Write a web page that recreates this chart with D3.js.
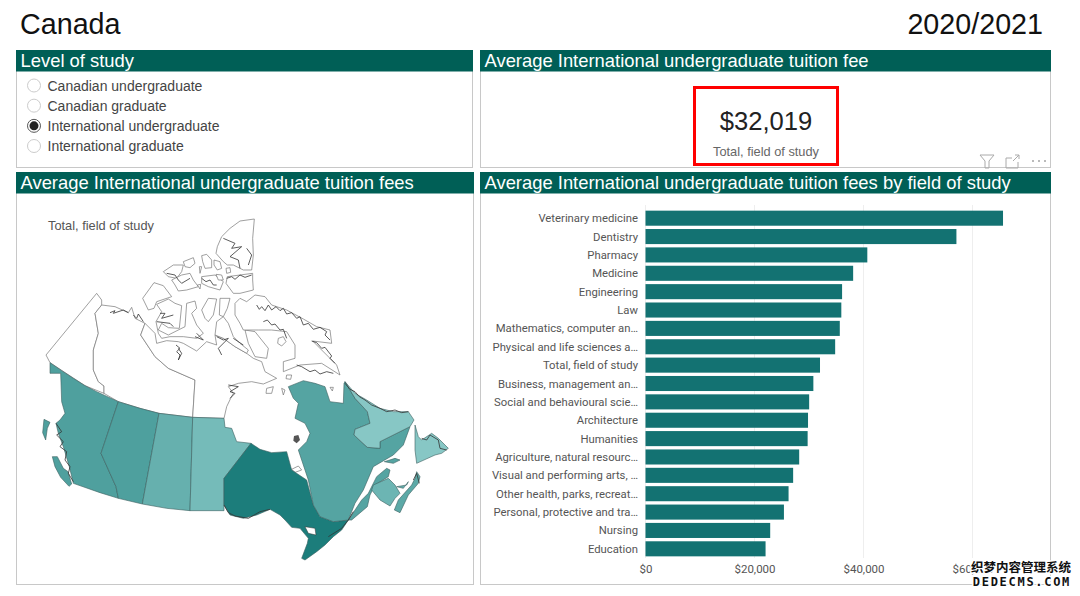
<!DOCTYPE html>
<html>
<head>
<meta charset="utf-8">
<script src="https://cdn.jsdelivr.net/npm/d3@7"></script>
<style>
body{margin:0;background:#fff;}
text{font-family:"Liberation Sans",Arial,sans-serif;}
</style>
</head>
<body>
<svg id="chart" width="1080" height="596"></svg>
<script>
var fields=["Veterinary medicine","Dentistry","Pharmacy","Medicine","Engineering","Law","Mathematics, computer an\u2026","Physical and life sciences a\u2026","Total, field of study","Business, management an\u2026","Social and behavioural scie\u2026","Architecture","Humanities","Agriculture, natural resourc\u2026","Visual and performing arts, \u2026","Other health, parks, recreat\u2026","Personal, protective and tra\u2026","Nursing","Education"];
var fees=[65600,57050,40700,38100,36070,35930,35650,34800,32019,30800,30030,29820,29750,28200,27090,26250,25400,22880,22030];
var feeTicks=[0,20000,40000,60000];
var levels=["Canadian undergraduate","Canadian graduate","International undergraduate","International graduate"];
var selectedLevel="International undergraduate";

// province fee estimates, only used to pick the map shade
var provinceFees={BC:26700,AB:27000,SK:20300,MB:16000,ON:41000,QC:25000,NB:18500,NS:23000,PE:21000,NL:11000};

// outlines, in map units (3 units = 1 px)
var provinceShapes=[
 {id:"BC",pts:[[150,518],[185,542],[220,565],[255,587],[290,605],[355,635],[303,790],[312,810],[330,850],[348,890],[355,925],[300,908],[220,880],[208,830],[190,770],[175,730],[168,700],[180,690],[195,670],[185,635],[182,550],[150,550]]},
 {id:"BC",pts:[[157,800],[172,800],[190,835],[204,845],[215,882],[207,889],[182,862],[165,830]]},
 {id:"BC",pts:[[132,688],[150,697],[142,715],[137,750],[128,728]]},
 {id:"AB",pts:[[355,635],[420,655],[477,670],[427,942],[355,925],[348,890],[330,850],[312,810],[303,790]]},
 {id:"SK",pts:[[477,670],[578,682],[570,962],[500,955],[427,942]]},
 {id:"MB",pts:[[578,682],[672,685],[675,712],[695,715],[710,755],[753,760],[672,865],[672,962],[570,962]]},
 {id:"ON",pts:[[753,760],[780,778],[815,788],[860,785],[875,840],[920,870],[940,945],[960,980],[1000,995],[1045,990],[1025,1020],[1000,1040],[975,1065],[950,1085],[915,1110],[905,1105],[922,1060],[925,1045],[900,1015],[875,1012],[855,990],[840,975],[810,958],[770,975],[730,985],[690,975],[672,945],[672,865]]},
 {id:"QC",pts:[[865,590],[910,572],[945,580],[975,590],[990,635],[1030,640],[1032,580],[1035,575],[1065,625],[1102,665],[1110,700],[1065,718],[1062,735],[1102,772],[1140,775],[1140,755],[1230,710],[1210,765],[1180,795],[1120,830],[1090,900],[1065,940],[1045,990],[1000,995],[960,980],[940,945],[925,870],[915,840],[895,780],[920,755],[930,730],[915,700],[885,685],[895,640],[880,625]]},
 {id:"QC",pts:[[1105,910],[1130,860],[1160,835],[1170,840],[1165,860],[1125,885],[1110,915],[1102,950],[1055,990],[1045,990],[1085,930]]},
 {id:"QC",pts:[[1153,815],[1185,805],[1200,810],[1180,820]]},
 {id:"NL",pts:[[1035,575],[1065,625],[1102,665],[1110,700],[1065,718],[1062,735],[1102,772],[1140,775],[1140,755],[1230,710],[1242,690],[1225,665],[1180,665],[1140,655],[1100,630],[1065,610]]},
 {id:"NL",pts:[[1245,705],[1255,740],[1265,750],[1295,730],[1315,745],[1345,775],[1325,790],[1305,795],[1250,820],[1245,780]]},
 {id:"NB",pts:[[1120,885],[1165,865],[1185,885],[1200,910],[1185,925],[1170,948],[1140,930],[1115,900]]},
 {id:"NS",pts:[[1250,845],[1260,860],[1255,880],[1225,915],[1200,968],[1183,960],[1195,930],[1235,885],[1245,865]]},
 {id:"PE",pts:[[1190,890],[1220,885],[1225,875],[1210,895]]}
];
// territories and arctic islands stay white
var whiteShapes=[
 [[290,310],[305,330],[305,345],[285,370],[295,430],[280,480],[280,540],[295,575],[312,588],[312,610],[255,587],[150,518],[138,495]],
 [[312,610],[355,635],[420,655],[477,670],[578,682],[585,570],[505,535],[465,500],[422,435],[435,400],[405,385],[395,352],[385,368],[345,350],[305,345],[285,370],[295,430],[280,480],[280,540],[295,575],[312,588]],
 [[585,570],[578,682],[672,685],[680,650],[692,625],[700,610],[685,590],[715,580],[755,575],[790,582],[830,565],[795,545],[785,515],[760,505],[740,490],[705,470],[670,445],[645,435],[650,465],[620,455],[590,483],[550,460],[535,455],[500,452],[470,460],[465,430],[435,400],[422,435],[465,500],[505,535]],
 [[735,420],[765,425],[805,475],[800,505],[765,500],[745,460]],
 [[765,315],[795,320],[815,345],[860,360],[910,387],[950,410],[990,420],[995,460],[938,453],[980,495],[1010,525],[1020,555],[965,520],[900,525],[850,545],[850,515],[885,505],[885,465],[860,425],[815,420],[775,420],[730,420],[720,400],[705,375],[705,340],[720,325],[740,335]],
 [[763,87],[720,93],[690,115],[665,140],[652,170],[648,190],[670,215],[682,225],[700,225],[730,240],[755,240],[760,195],[758,145]],
 [[758,250],[720,255],[682,260],[678,280],[700,310],[720,310],[760,300],[758,270]],
 [[605,197],[620,193],[635,210],[635,233],[615,235],[608,215]],
 [[642,210],[660,215],[665,235],[652,240],[642,225]],
 [[605,260],[645,255],[670,275],[660,300],[625,290],[605,280]],
 [[648,253],[665,255],[670,270],[655,270]],
 [[678,235],[690,233],[692,247],[680,250]],
 [[490,245],[520,225],[550,225],[545,245],[530,265],[505,260]],
 [[550,215],[580,203],[585,220],[570,233],[555,230]],
 [[515,270],[545,255],[570,250],[580,270],[595,290],[560,300],[535,303],[525,285]],
 [[598,230],[605,230],[600,250]],
 [[592,285],[602,283],[600,297]],
 [[428,325],[462,278],[490,287],[515,320],[470,335],[462,355],[445,360]],
 [[470,343],[505,327],[525,340],[545,347],[538,415],[505,413],[485,400],[475,420],[505,435],[555,410],[560,340],[585,333],[590,355],[575,370],[590,405],[610,430],[590,445],[550,440],[510,440],[485,445],[475,430],[468,395],[485,365]],
 [[605,360],[625,325],[650,327],[640,375],[625,395],[615,385]],
 [[660,325],[690,325],[682,355],[670,380],[658,375]],
 [[650,395],[670,380],[685,400],[700,440],[720,460],[745,480],[740,490],[705,470],[670,445],[645,435]],
 [[800,595],[820,590],[815,610],[798,610]],
 [[845,595],[855,600],[850,615]],
 [[835,445],[850,440],[858,455],[845,468],[833,460]],
 [[860,555],[875,555],[872,568],[858,566]],
 [[875,838],[895,828],[905,840],[885,847]],
 [[990,592],[1000,592],[997,603]],
 [[1175,695],[1190,665],[1182,695]]
];
// hand drawn crinkles along the coasts
var coastLines=[
 [[330,368],[345,362],[340,370],[370,360],[385,368]],
 [[400,375],[410,385],[415,372],[430,395]],
 [[168,700],[185,725],[170,735],[190,755],[180,770],[200,785],[195,810],[210,830],[205,850],[220,875]],
 [[770,345],[778,358],[785,350],[795,362],[805,345],[815,360],[828,350],[840,362],[850,355],[860,372],[875,368],[890,385],[900,380],[910,405],[925,400],[940,418],[960,412],[980,425],[975,435],[990,450]],
 [[790,395],[802,390],[815,405],[825,402],[840,420],[850,418],[860,445]],
 [[935,453],[950,458],[965,475],[975,472],[995,498],[990,505],[1005,520]],
 [[890,525],[905,530],[930,545],[945,540],[960,552],[980,545],[1000,550]],
 [[670,145],[705,160],[695,175],[725,170],[690,200],[715,210],[720,235]],
 [[740,175],[755,195],[745,225]],
 [[680,265],[695,260],[705,268],[720,255],[735,262],[755,255]],
 [[605,265],[618,275],[630,270],[640,285],[650,285]],
 [[500,250],[525,255],[535,270],[545,280],[570,265]],
 [[480,370],[495,370],[485,385],[520,375]],
 [[470,395],[510,400],[520,410]],
 [[528,465],[540,475],[530,485],[540,495],[535,510],[545,490],[535,475]],
 [[590,430],[610,450],[585,440]],
 [[650,440],[670,450],[685,445],[655,475],[665,495]],
 [[700,445],[730,465]],
 [[685,585],[715,590],[690,605],[705,610],[690,625]],
 [[1035,580],[1050,598],[1065,605],[1078,620],[1095,630],[1115,645],[1140,655],[1160,665],[1185,660],[1205,668],[1225,665]],
 [[1265,745],[1280,750],[1290,735],[1315,750],[1320,775],[1340,780]],
 [[672,945],[685,968],[705,978],[745,985],[780,965],[810,958]],
 [[985,1040],[1025,1015],[1045,990],[1060,965]],
 [[1240,870],[1250,850],[1258,880]]
];
// Georgian Bay and the Akimiski blob sit on top
var georgianBay=[[915,1010],[945,1015],[948,1035],[925,1030]];
var akimiski=[[882,738],[895,735],[900,750],[890,760],[880,752]];
var kpiValue="$32,019";
var kpiLabel="Total, field of study";

var svg=d3.select("#chart");
var darkGreen="#005f56", borderGrey="#c8c8c8", textGrey="#555";

var panels=[
 {x:16,y:50,w:457,h:118,title:"Level of study"},
 {x:480,y:50,w:571,h:118,title:"Average International undergraduate tuition fee"},
 {x:16,y:172,w:458,h:413,title:"Average International undergraduate tuition fees"},
 {x:480,y:172,w:571,h:413,title:"Average International undergraduate tuition fees by field of study"}
];
svg.selectAll("rect.panel").data(panels).enter().append("rect")
 .attr("class","panel")
 .attr("x",function(d){return d.x+0.5;})
 .attr("y",function(d){return d.y+0.5;})
 .attr("width",function(d){return d.w-1;})
 .attr("height",function(d){return d.h-1;})
 .attr("fill","#fff").attr("stroke",borderGrey);
svg.selectAll("rect.head").data(panels).enter().append("rect")
 .attr("class","head")
 .attr("x",function(d){return d.x;})
 .attr("y",function(d){return d.y;})
 .attr("width",function(d){return d.w;})
 .attr("height",21.5)
 .attr("fill",darkGreen);
svg.selectAll("text.head").data(panels).enter().append("text")
 .attr("class","head")
 .attr("x",function(d){return d.x+4.5;})
 .attr("y",function(d){return d.y+16.5;})
 .attr("font-size",18.4)
 .attr("fill","#fff")
 .text(function(d){return d.title;});

svg.append("text").attr("x",20).attr("y",34).attr("font-size",28.7).attr("fill","#111").text("Canada");
svg.append("text").attr("x",1043).attr("y",34).attr("font-size",28.7).attr("fill","#111").attr("text-anchor","end").text("2020/2021");

// radio list
var levelY=d3.scalePoint().domain(levels).range([85.5,146]);
var radio=svg.selectAll("g.level").data(levels).enter().append("g").attr("class","level")
 .attr("transform",function(d){return "translate(0,"+levelY(d)+")";});
radio.append("circle").attr("cx",34).attr("r",6.5).attr("fill","#fff")
 .attr("stroke",function(d){return d==selectedLevel?"#555":"#ccc";});
radio.filter(function(d){return d==selectedLevel;}).append("circle").attr("cx",34).attr("r",4.5).attr("fill","#222");
radio.append("text").attr("x",47.5).attr("y",5).attr("font-size",14).attr("fill","#444").text(function(d){return d;});

// kpi card
svg.append("rect").attr("x",694.5).attr("y",87.5).attr("width",143).attr("height",77)
 .attr("fill","#fff").attr("stroke","#f00").attr("stroke-width",3);
svg.append("text").attr("x",766).attr("y",130).attr("text-anchor","middle").attr("font-size",25.6).attr("fill","#222").text(kpiValue);
svg.append("text").attr("x",766).attr("y",155.5).attr("text-anchor","middle").attr("font-size",12.8).attr("fill","#666").text(kpiLabel);

// visual header icons
var icons=svg.append("g").attr("fill","none").attr("stroke","#aaa").attr("stroke-width",1);
icons.append("path").attr("d","M980,155H994L989,161V168H985V161Z");
icons.append("path").attr("d","M1012,158H1006V168H1018V162M1013,161L1019,155M1015,155H1019V159");
icons.append("path").attr("d","M1032,161h2M1038,161h2M1044,161h2").attr("stroke","#777");

// map
var mapX=d3.scaleLinear().domain([0,1440]).range([0,480]);
var mapY=d3.scaleLinear().domain([0,1200]).range([190,590]);
var shade=d3.scaleLinear().domain([11000,41000]).range(["#87c7c5","#1c7d7b"]);
var outline=d3.line().x(function(d){return mapX(d[0]);}).y(function(d){return mapY(d[1]);});
svg.append("g").selectAll("path").data(whiteShapes).enter().append("path")
 .attr("d",function(d){return outline(d)+"Z";})
 .attr("fill","#fff").attr("stroke","#777").attr("stroke-width",0.7);
svg.append("g").selectAll("path").data(provinceShapes).enter().append("path")
 .attr("d",function(d){return outline(d.pts)+"Z";})
 .attr("fill",function(d){return shade(provinceFees[d.id]);})
 .attr("stroke","#3d5f5f").attr("stroke-width",0.6);
svg.append("path").attr("d",outline(georgianBay)+"Z").attr("fill","#fff").attr("stroke","#333").attr("stroke-width",0.5);
svg.append("path").attr("d",outline(akimiski)+"Z").attr("fill","#555");
svg.append("g").selectAll("path").data(coastLines).enter().append("path")
 .attr("d",outline).attr("fill","none").attr("stroke","#333").attr("stroke-width",0.8);
svg.append("text").attr("x",48).attr("y",230).attr("font-size",12.8).attr("fill",textGrey).text(kpiLabel);

// bars
var x=d3.scaleLinear().domain([0,60000]).range([645.5,972.5]);
var y=d3.scaleBand().domain(fields).range([209,558]).paddingInner(0.18).paddingOuter(0.09);
var grid=svg.append("g");
grid.selectAll("line").data(feeTicks).enter().append("line")
 .attr("x1",function(d){return x(d);}).attr("x2",function(d){return x(d);})
 .attr("y1",205).attr("y2",558)
 .attr("stroke","#eee");
svg.append("g").selectAll("rect").data(fields).enter().append("rect")
 .attr("x",x(0))
 .attr("y",function(d){return y(d);})
 .attr("width",function(d,i){return x(fees[i])-x(0);})
 .attr("height",y.bandwidth())
 .attr("fill","#137272");
svg.append("g").selectAll("text").data(fields).enter().append("text")
 .attr("x",638).attr("text-anchor","end")
 .attr("y",function(d){return y(d)+y.bandwidth()/2+4;})
 .attr("font-size",11.3).style("font-family","Roboto").attr("fill",textGrey)
 .text(function(d){return d;});
var xAxis=d3.axisBottom(x).tickValues(feeTicks).tickSize(0).tickFormat(d3.format("$,"));
var ax=svg.append("g").attr("transform","translate(0,562)").call(xAxis);
ax.select(".domain").remove();
ax.selectAll("text").attr("font-size",11.5).attr("fill","#555").style("font-family","Roboto");

// site watermark
var wm=svg.append("g");
wm.append("text").attr("x",1071).attr("y",572).attr("text-anchor","end").attr("font-size",12.5).attr("font-weight",700)
 .style("font-family","Noto Sans CJK SC").attr("fill","#111").attr("stroke","#fff").attr("stroke-width",3).attr("paint-order","stroke").text("织梦内容管理系统");
wm.append("text").attr("x",1071).attr("y",586).attr("text-anchor","end").attr("font-size",12).attr("font-weight",700)
 .style("font-family","DejaVu Sans Mono").attr("letter-spacing",1.7).attr("fill","#111").attr("stroke","#fff").attr("stroke-width",3).attr("paint-order","stroke").text("DEDECMS.COM");
</script>
</body>
</html>
